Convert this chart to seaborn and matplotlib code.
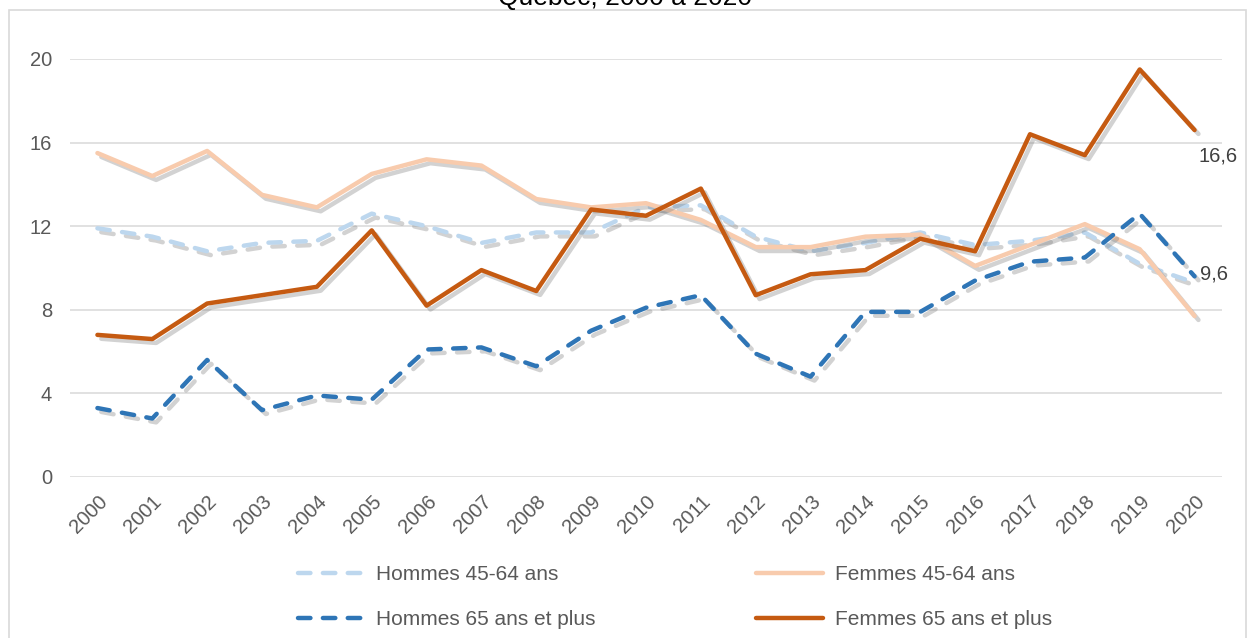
import numpy as np
import pandas as pd
import matplotlib
matplotlib.use("Agg")
import matplotlib.pyplot as plt
import matplotlib.patheffects as pe
from matplotlib.patches import Rectangle
import seaborn as sns

# data
years = list(range(2000, 2021))
hommes_45_64 = [11.9, 11.5, 10.8, 11.2, 11.3, 12.6, 12.0, 11.2, 11.7, 11.7, 12.9,
                13.0, 11.5, 10.8, 11.2, 11.7, 11.1, 11.3, 11.7, 10.2, 9.3]
femmes_45_64 = [15.5, 14.4, 15.6, 13.5, 12.9, 14.5, 15.2, 14.9, 13.3, 12.9, 13.1,
                12.3, 11.0, 11.0, 11.5, 11.6, 10.1, 11.1, 12.1, 10.9, 7.7]
hommes_65 = [3.3, 2.8, 5.6, 3.2, 3.9, 3.7, 6.1, 6.2, 5.3, 7.0, 8.1,
             8.7, 5.9, 4.8, 7.9, 7.9, 9.4, 10.3, 10.5, 12.6, 9.6]
femmes_65 = [6.8, 6.6, 8.3, 8.7, 9.1, 11.8, 8.2, 9.9, 8.9, 12.8, 12.5,
             13.8, 8.7, 9.7, 9.9, 11.4, 10.8, 16.4, 15.4, 19.5, 16.6]
labels = ["Hommes 45-64 ans", "Femmes 45-64 ans",
          "Hommes 65 ans et plus", "Femmes 65 ans et plus"]
title = "Québec, 2000 à 2020"

sns.set_style("white")
plt.rcParams['font.family'] = ['Liberation Sans', 'DejaVu Sans']

grey = "#595959"
fig = plt.figure(figsize=(12.49, 6.38), dpi=100)
ax = fig.add_axes([70/1249, 1-477/638, 1152/1249, 418/638])

series = [
    (hommes_45_64, "#BDD7EE", True),
    (femmes_45_64, "#F8CBAD", False),
    (hommes_65, "#2E75B6", True),
    (femmes_65, "#C55A11", False),
]
shadow = [pe.SimpleLineShadow(offset=(2.8, -2.8), shadow_color="#7f7f7f", alpha=0.35),
          pe.Normal()]
for (vals, col, dashed), lab in zip(series, labels):
    df = pd.DataFrame({"annee": years, "taux": vals})
    kw = dict(linestyle=(0, (2.8, 2.8)), dash_capstyle="round") if dashed else dict(solid_capstyle="round")
    sns.lineplot(data=df, x="annee", y="taux", ax=ax, color=col, linewidth=3.2,
                 label=lab, path_effects=shadow, **kw)

# data labels at the last point
ax.annotate("16,6", (2020, femmes_65[-1]), xytext=(3, -19), textcoords="offset points",
            ha="left", va="center", fontsize=14.5, color="#404040")
ax.annotate("9,6", (2020, hommes_65[-1]), xytext=(4, 2), textcoords="offset points",
            ha="left", va="center", fontsize=14.5, color="#404040")

ax.set_xlim(1999.5, 2020.5)
ax.set_ylim(0, 20)
ax.set_yticks(range(0, 21, 4))
ax.set_xticks(years)
ax.set_xticklabels([str(y) for y in years], rotation=45, ha="right",
                   rotation_mode="anchor")
ax.tick_params(axis="x", length=0, pad=11, labelsize=14.5, labelcolor=grey)
ax.tick_params(axis="y", length=0, pad=13, labelsize=14.5, labelcolor=grey)
ax.set_xlabel("")
ax.set_ylabel("")
ax.grid(axis="y", color="#D9D9D9", linewidth=1.1)
ax.grid(axis="x", visible=False)
for s in ax.spines.values():
    s.set_visible(False)

# legend, filled row by row
h, l = ax.get_legend_handles_labels()
order = [0, 2, 1, 3]
leg = ax.legend([h[i] for i in order], [l[i] for i in order], ncol=2, frameon=False,
                loc="center", bbox_to_anchor=(675/1249, 1-597/638),
                bbox_transform=fig.transFigure, fontsize=15, labelcolor=grey,
                handlelength=3.2, handletextpad=0.55, columnspacing=7.7,
                labelspacing=1.25)
for line in leg.get_lines():
    line.set_path_effects([])

# chart border and clipped title
fig.patches.append(Rectangle((9/1249, -0.05), 1237/1249, 1.05 - 10/638,
                             transform=fig.transFigure, fill=False,
                             edgecolor="#D9D9D9", linewidth=1.2))
fig.text(0.5, 1 - 5/638, title, ha="center", va="baseline", fontsize=19, color="#000000")

fig.savefig("out.png", dpi=100)
